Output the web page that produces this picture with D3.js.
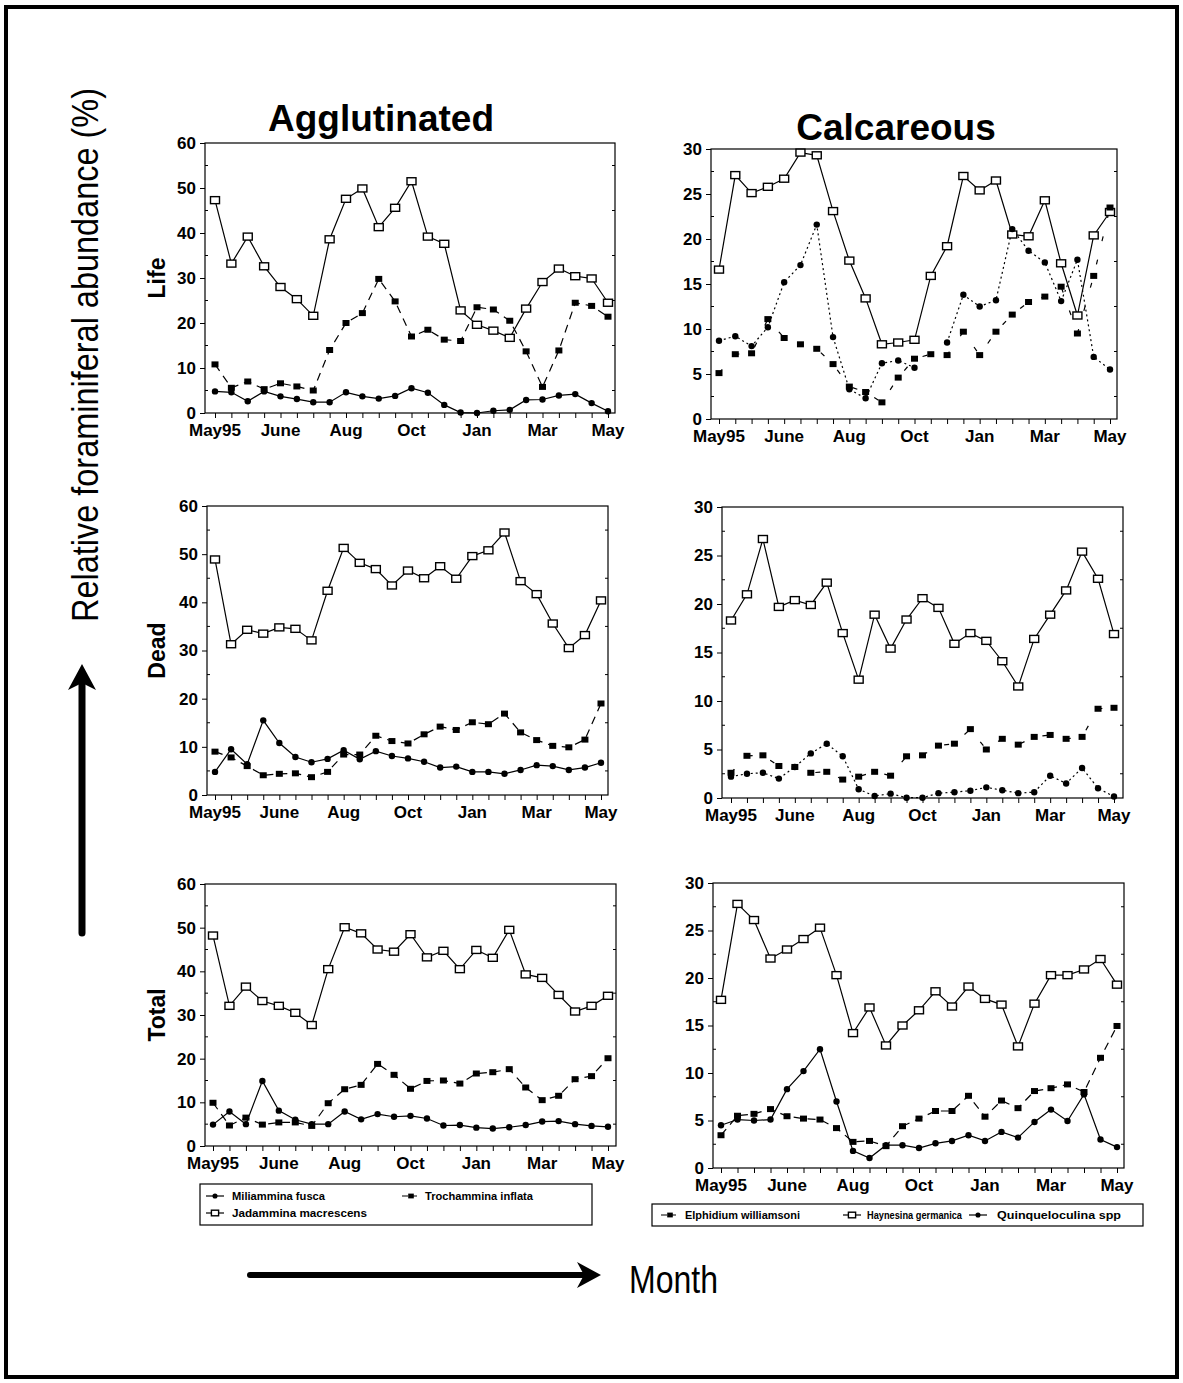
<html>
<head>
  <meta charset="utf-8">
  <title>Relative foraminiferal abundance</title>
  <script src="https://d3js.org/d3.v7.min.js"></script>
  <style>
    body { margin: 0; background: #fff; }
    text { font-family: "Liberation Sans", Arial, sans-serif; fill: #000; }
  </style>
</head>
<body>
<svg id="chart" width="1183" height="1383"></svg>
<script>
  // ---- data (25 samples, May 1995 - May 1996, roughly fortnightly) ----
  var sampleIndex = d3.range(25);
  var monthTickIndex = [0, 4, 8, 12, 16, 20, 24];
  var monthLabels = ["May95", "June", "Aug", "Oct", "Jan", "Mar", "May"];

  // Agglutinated
  var miliLife = [4.8, 4.6, 2.6, 4.8, 3.7, 3.1, 2.4, 2.4, 4.6, 3.7, 3.2, 3.8, 5.5, 4.5, 1.8, 0.1, 0, 0.5, 0.7, 2.9, 3.0, 3.9, 4.2, 2.2, 0.4];
  var trocLife = [10.8, 5.6, 7.0, 5.3, 6.6, 5.9, 5.0, 14.0, 20.0, 22.2, 29.8, 24.8, 17.0, 18.5, 16.3, 16.0, 23.5, 23.0, 20.5, 13.7, 5.8, 13.9, 24.5, 23.8, 21.4];
  var jadaLife = [47.3, 33.2, 39.2, 32.6, 28.0, 25.3, 21.6, 38.6, 47.6, 49.9, 41.3, 45.6, 51.5, 39.2, 37.6, 22.8, 19.6, 18.3, 16.7, 23.2, 29.1, 32.1, 30.4, 29.9, 24.5];

  var miliDead = [4.8, 9.5, 6.4, 15.5, 10.8, 7.9, 6.8, 7.5, 9.3, 7.4, 9.1, 8.1, 7.6, 6.9, 5.7, 5.9, 4.8, 4.8, 4.4, 5.2, 6.2, 6.0, 5.2, 5.7, 6.7];
  var trocDead = [9.0, 7.8, 6.0, 4.1, 4.4, 4.5, 3.7, 4.8, 8.4, 8.4, 12.3, 11.2, 10.7, 12.6, 14.2, 13.5, 15.1, 14.7, 16.9, 13.0, 11.4, 10.2, 9.9, 11.5, 19.0];
  var jadaDead = [48.9, 31.3, 34.3, 33.5, 34.8, 34.5, 32.1, 42.4, 51.3, 48.2, 46.9, 43.5, 46.6, 45.0, 47.5, 44.9, 49.6, 50.8, 54.5, 44.4, 41.7, 35.6, 30.5, 33.2, 40.4];

  var miliTotal = [4.9, 7.9, 5.0, 14.9, 8.1, 6.0, 5.0, 5.0, 7.9, 6.1, 7.3, 6.7, 6.9, 6.3, 4.7, 4.8, 4.2, 4.0, 4.3, 4.8, 5.6, 5.7, 5.0, 4.6, 4.4];
  var trocTotal = [9.9, 4.7, 6.5, 4.9, 5.4, 5.4, 4.6, 9.8, 13.0, 14.0, 18.8, 16.3, 13.1, 14.9, 15.0, 14.3, 16.6, 16.9, 17.6, 13.4, 10.5, 11.5, 15.3, 16.0, 20.1];
  var jadaTotal = [48.2, 32.1, 36.5, 33.2, 32.1, 30.5, 27.7, 40.5, 50.1, 48.7, 45.0, 44.5, 48.5, 43.2, 44.7, 40.5, 44.9, 43.1, 49.5, 39.3, 38.5, 34.6, 30.8, 32.1, 34.4];

  // Calcareous
  var elphLife = [5.1, 7.2, 7.3, 11.1, 9.0, 8.3, 7.8, 6.1, 3.6, 3.0, 1.85, 4.6, 6.7, 7.2, 7.1, 9.7, 7.1, 9.7, 11.6, 13.0, 13.6, 14.7, 9.5, 15.9, 23.5];
  var haynLife = [16.6, 27.1, 25.1, 25.8, 26.7, 29.6, 29.3, 23.1, 17.6, 13.4, 8.3, 8.5, 8.8, 15.9, 19.2, 27.0, 25.4, 26.5, 20.5, 20.3, 24.3, 17.3, 11.5, 20.4, 23.0];
  var quinLife = [8.7, 9.2, 8.1, 10.2, 15.2, 17.1, 21.6, 9.1, 3.3, 2.3, 6.2, 6.5, 5.7, null, 8.5, 13.8, 12.5, 13.2, 21.1, 18.7, 17.4, 13.1, 17.7, 6.9, 5.5];

  var elphDead = [2.6, 4.35, 4.4, 3.3, 3.2, 2.6, 2.7, 1.9, 2.2, 2.7, 2.3, 4.3, 4.4, 5.4, 5.6, 7.1, 5.0, 6.1, 5.5, 6.3, 6.5, 6.1, 6.3, 9.2, 9.3];
  var haynDead = [18.3, 21.0, 26.7, 19.7, 20.4, 19.9, 22.2, 17.0, 12.2, 18.9, 15.4, 18.4, 20.6, 19.6, 15.9, 17.0, 16.2, 14.1, 11.5, 16.4, 18.9, 21.4, 25.4, 22.6, 16.9];
  var quinDead = [2.2, 2.5, 2.6, 2.0, 3.2, 4.6, 5.6, 4.3, 0.9, 0.2, 0.45, 0.03, 0.03, 0.5, 0.6, 0.75, 1.1, 0.8, 0.5, 0.6, 2.3, 1.5, 3.1, 1.0, 0.15];

  var elphTotal = [3.45, 5.5, 5.7, 6.2, 5.45, 5.2, 5.1, 4.2, 2.75, 2.85, 2.3, 4.4, 5.2, 6.0, 6.0, 7.6, 5.4, 7.1, 6.3, 8.1, 8.4, 8.8, 8.0, 11.6, 14.95];
  var haynTotal = [17.7, 27.8, 26.1, 22.05, 23.0, 24.1, 25.3, 20.3, 14.2, 16.9, 12.9, 15.0, 16.6, 18.6, 17.0, 19.1, 17.8, 17.2, 12.8, 17.3, 20.3, 20.3, 20.9, 22.0, 19.3];
  var quinTotal = [4.5, 5.1, 5.0, 5.1, 8.3, 10.2, 12.5, 7.0, 1.8, 1.05, 2.4, 2.4, 2.1, 2.6, 2.85, 3.45, 2.85, 3.8, 3.2, 4.85, 6.15, 4.95, 7.75, 3.0, 2.2];

  var aggTicks = [0, 10, 20, 30, 40, 50, 60];
  var calTicks = [0, 5, 10, 15, 20, 25, 30];

  // ---- layout ----
  var svg = d3.select("#chart");
  var font = "Liberation Sans, Arial, sans-serif";

  // marker + line styles per species
  var styles = {
    mili: { marker: "circle", dash: null },
    troc: { marker: "fsquare", dash: "8,6" },
    jada: { marker: "osquare", dash: null },
    elph: { marker: "fsquare", dash: "5,19" },
    elphT: { marker: "fsquare", dash: "8,6" },
    hayn: { marker: "osquare", dash: null },
    quin: { marker: "circle", dash: "2,3" },
    quinT: { marker: "circle", dash: null }
  };

  var panels = [
    { x0: 205, x1: 615, y0: 143, y1: 413, p0: 215, p1: 608, ymax: 60, ticks: aggTicks, row: "Life",
      series: [[jadaLife, "jada"], [trocLife, "troc"], [miliLife, "mili"]] },
    { x0: 711, x1: 1117, y0: 149, y1: 419, p0: 719, p1: 1110, ymax: 30, ticks: calTicks,
      series: [[haynLife, "hayn"], [elphLife, "elph"], [quinLife, "quin"]] },
    { x0: 207, x1: 608, y0: 506, y1: 795, p0: 215, p1: 601, ymax: 60, ticks: aggTicks, row: "Dead",
      series: [[jadaDead, "jada"], [trocDead, "troc"], [miliDead, "mili"]] },
    { x0: 722, x1: 1123, y0: 507, y1: 798, p0: 731, p1: 1114, ymax: 30, ticks: calTicks,
      series: [[haynDead, "hayn"], [elphDead, "elph"], [quinDead, "quin"]] },
    { x0: 205, x1: 616, y0: 884, y1: 1146, p0: 213, p1: 608, ymax: 60, ticks: aggTicks, row: "Total",
      series: [[jadaTotal, "jada"], [trocTotal, "troc"], [miliTotal, "mili"]] },
    { x0: 713, x1: 1124, y0: 883, y1: 1168, p0: 721, p1: 1117, ymax: 30, ticks: calTicks,
      series: [[haynTotal, "hayn"], [elphTotal, "elphT"], [quinTotal, "quinT"]] }
  ];

  function drawMarker(g, kind, cx, cy, sc) {
    sc = sc || 1;
    if (kind == "circle") {
      g.append("circle").attr("cx", cx).attr("cy", cy).attr("r", 3.2 * sc).attr("fill", "#000");
    } else if (kind == "fsquare") {
      g.append("rect").attr("x", cx - 3.5 * sc).attr("y", cy - 3 * sc)
        .attr("width", 7 * sc).attr("height", 6 * sc).attr("fill", "#000");
    } else {
      g.append("rect").attr("x", cx - 4.5 * sc).attr("y", cy - 3.5 * sc)
        .attr("width", 9 * sc).attr("height", 7 * sc)
        .attr("fill", "#fff").attr("stroke", "#000").attr("stroke-width", 1.4);
    }
  }

  panels.forEach(function(p) {
    var g = svg.append("g");
    var x = d3.scaleLinear().domain([0, 24]).range([p.p0, p.p1]);
    var y = d3.scaleLinear().domain([0, p.ymax]).range([p.y1, p.y0]);

    // frame
    g.append("rect").attr("x", p.x0).attr("y", p.y0).attr("width", p.x1 - p.x0).attr("height", p.y1 - p.y0)
      .attr("fill", "none").attr("stroke", "#000").attr("stroke-width", 1.2);

    // y axis
    var yAxis = d3.axisLeft(y).tickValues(p.ticks).tickSize(5).tickPadding(4);
    var ya = g.append("g").attr("transform", "translate(" + p.x0 + ",0)").call(yAxis);
    ya.select(".domain").remove();
    ya.selectAll("text").style("font-family", font).style("font-size", "17px").style("font-weight", "bold");
    // minor y ticks
    var step = p.ticks[1] - p.ticks[0];
    p.ticks.slice(0, -1).forEach(function(t) {
      g.append("line").attr("x1", p.x0).attr("x2", p.x0 + 3)
        .attr("y1", y(t + step / 2)).attr("y2", y(t + step / 2)).attr("stroke", "#000");
      g.append("line").attr("x1", p.x1).attr("x2", p.x1 - 3)
        .attr("y1", y(t + step / 2)).attr("y2", y(t + step / 2)).attr("stroke", "#000");
    });

    // x axis
    var xAxis = d3.axisBottom(x).tickValues(sampleIndex).tickSize(5).tickFormat("");
    var xa = g.append("g").attr("transform", "translate(0," + p.y1 + ")").call(xAxis);
    xa.select(".domain").remove();
    g.selectAll(".mlab").data(monthTickIndex).enter().append("text")
      .attr("x", function(d) { return x(d); })
      .attr("y", p.y1 + 23)
      .attr("text-anchor", "middle")
      .style("font-size", "17px").style("font-weight", "bold")
      .text(function(d, i) { return monthLabels[i]; });

    // series lines
    p.series.forEach(function(s) {
      var st = styles[s[1]];
      var line = d3.line()
        .defined(function(d) { return d != null; })
        .x(function(d, i) { return x(i); })
        .y(function(d) { return y(d); });
      g.append("path").datum(s[0]).attr("d", line)
        .attr("fill", "none").attr("stroke", "#000").attr("stroke-width", 1.2)
        .attr("stroke-dasharray", st.dash);
    });
    // markers
    p.series.forEach(function(s) {
      var st = styles[s[1]];
      s[0].forEach(function(v, i) {
        if (v != null) drawMarker(g, st.marker, x(i), y(v));
      });
    });

    if (p.row) {
      svg.append("text")
        .attr("transform", "translate(165," + (p.y0 + p.y1) / 2 + ") rotate(-90)")
        .attr("text-anchor", "middle")
        .style("font-size", "23px").style("font-weight", "bold")
        .text(p.row);
    }
  });

  // titles
  svg.append("text").attr("x", 381).attr("y", 131).attr("text-anchor", "middle")
    .style("font-size", "37px").style("font-weight", "bold").text("Agglutinated");
  svg.append("text").attr("x", 896).attr("y", 140).attr("text-anchor", "middle")
    .style("font-size", "37px").style("font-weight", "bold").text("Calcareous");

  // outer border
  svg.append("rect").attr("x", 6).attr("y", 7).attr("width", 1171).attr("height", 1370)
    .attr("fill", "none").attr("stroke", "#000").attr("stroke-width", 4);

  // y axis label + arrow
  svg.append("text")
    .attr("transform", "translate(98,355) rotate(-90)")
    .attr("text-anchor", "middle")
    .attr("textLength", 534).attr("lengthAdjust", "spacingAndGlyphs")
    .style("font-size", "36px")
    .text("Relative foraminiferal abundance (%)");
  svg.append("line").attr("x1", 82).attr("x2", 82).attr("y1", 933).attr("y2", 684)
    .attr("stroke", "#000").attr("stroke-width", 7).attr("stroke-linecap", "round");
  svg.append("path").attr("d", "M82,664 L96,690 L82,683 L68,690 Z").attr("fill", "#000");

  // x label + arrow
  svg.append("line").attr("x1", 250).attr("x2", 584).attr("y1", 1275).attr("y2", 1275)
    .attr("stroke", "#000").attr("stroke-width", 6).attr("stroke-linecap", "round");
  svg.append("path").attr("d", "M601,1275 L577,1262 L584,1275 L577,1288 Z").attr("fill", "#000");
  svg.append("text").attr("x", 629).attr("y", 1293)
    .attr("textLength", 89).attr("lengthAdjust", "spacingAndGlyphs")
    .style("font-size", "38px").text("Month");

  // legends
  function legendItem(g, kind, dash, sx, sy, label, tx, tw) {
    g.append("line").attr("x1", sx - 9).attr("x2", sx + 9).attr("y1", sy).attr("y2", sy)
      .attr("stroke", "#000").attr("stroke-width", 1.2).attr("stroke-dasharray", dash);
    drawMarker(g, kind, sx, sy, 0.8);
    g.append("text").attr("x", tx).attr("y", sy + 4)
      .attr("textLength", tw).attr("lengthAdjust", "spacingAndGlyphs")
      .style("font-size", "10.5px").style("font-weight", "bold").text(label);
  }
  var lg1 = svg.append("g");
  lg1.append("rect").attr("x", 200).attr("y", 1184).attr("width", 392).attr("height", 41)
    .attr("fill", "none").attr("stroke", "#000").attr("stroke-width", 1.2);
  legendItem(lg1, "circle", null, 215, 1196, "Miliammina fusca", 232, 93);
  legendItem(lg1, "fsquare", "6,3", 411, 1196, "Trochammina inflata", 425, 108);
  legendItem(lg1, "osquare", null, 215, 1213, "Jadammina macrescens", 232, 135);

  var lg2 = svg.append("g");
  lg2.append("rect").attr("x", 652).attr("y", 1204).attr("width", 491).attr("height", 22)
    .attr("fill", "none").attr("stroke", "#000").attr("stroke-width", 1.2);
  legendItem(lg2, "fsquare", "6,3", 670, 1215, "Elphidium williamsoni", 685, 115);
  legendItem(lg2, "osquare", null, 852, 1215, "Haynesina germanica", 867, 95);
  legendItem(lg2, "circle", null, 978, 1215, "Quinqueloculina spp", 997, 124);
</script>
</body>
</html>
